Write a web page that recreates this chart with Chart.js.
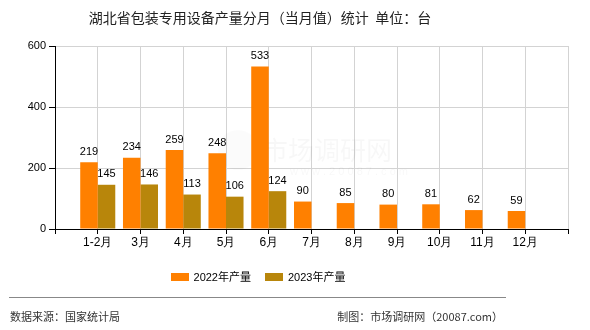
<!DOCTYPE html>
<html>
<head>
<meta charset="utf-8">
<script src="https://cdn.jsdelivr.net/npm/chart.js@4.4.1/dist/chart.umd.min.js"></script>
<style>
  html, body { margin: 0; padding: 0; background: #fff; }
  #wrap { position: relative; width: 590px; height: 330px; overflow: hidden;
          font-family: "Liberation Sans", "Noto Sans CJK SC", sans-serif; }
  #chart { position: absolute; left: 0; top: 0; }
  .title { position: absolute; left: 0; top: 7px; width: 520px; text-align: center;
           font-size: 14px; color: #222; font-family: "Noto Sans CJK SC", sans-serif; line-height: 20px; }
  .legend { position: absolute; left: 0; top: 268px; width: 516px; display: flex;
            justify-content: center; font-size: 11px; color: #000; line-height: 18px; }
  .legend span.item { display: flex; align-items: center; margin: 0 7px; }
  .legend i { display: inline-block; width: 18px; height: 8px; margin-right: 5px; }
  .rule { position: absolute; left: 9px; top: 297px; width: 497px; height: 1px; background: #888; }
  .foot { position: absolute; top: 307px; font-size: 11px; color: #333; line-height: 18px;
          font-family: "Noto Sans CJK SC", sans-serif; }
</style>
</head>
<body>
<div id="wrap">
  <canvas id="chart" width="590" height="330"></canvas>
  <div class="title">湖北省包装专用设备产量分月（当月值）统计&nbsp;&nbsp;单位：台</div>
  <div class="legend" id="legend"></div>
  <div class="rule"></div>
  <div class="foot" style="left:10px">数据来源：国家统计局</div>
  <div class="foot" style="right:87px">制图：市场调研网（20087.com）</div>
</div>
<script>
const months = ['1-2月', '3月', '4月', '5月', '6月', '7月', '8月', '9月', '10月', '11月', '12月'];
const output2022 = [219, 234, 259, 248, 533, 90, 85, 80, 81, 62, 59];
const output2023 = [145, 146, 113, 106, 124, null, null, null, null, null, null];
const yTicks = [0, 200, 400, 600];

const seriesNames = ['2022年产量', '2023年产量'];
const seriesColors = ['#ff8000', '#b8860b'];

// empty slot at each end so the grid lines fall on month centres
const pad = arr => [null, ...arr, null];

// faint site mark behind the bars
const watermark = {
  id: 'watermark',
  beforeDatasetsDraw(chart) {
    const ctx = chart.ctx;
    ctx.save();
    ctx.fillStyle = 'rgba(0,0,0,0.03)';
    ctx.font = '26px "Noto Sans CJK SC", sans-serif';
    ctx.textAlign = 'left';
    ctx.textBaseline = 'middle';
    ctx.fillText('市场调研网', 262, 150);
    ctx.font = '11px "Liberation Sans", sans-serif';
    ctx.fillText('w w w . 2 0 0 8 7 . c o m', 290, 172);
    ctx.beginPath();
    ctx.arc(238, 150, 20, 0, Math.PI * 2);
    ctx.fillStyle = 'rgba(0,0,0,0.015)';
    ctx.fill();
    ctx.restore();
  }
};

// value written above every bar
const barValues = {
  id: 'barValues',
  afterDatasetsDraw(chart) {
    const ctx = chart.ctx;
    ctx.save();
    ctx.fillStyle = '#000';
    ctx.font = '11px "Liberation Sans", sans-serif';
    ctx.textAlign = 'center';
    ctx.textBaseline = 'bottom';
    chart.data.datasets.forEach((ds, i) => {
      chart.getDatasetMeta(i).data.forEach((bar, j) => {
        const v = ds.data[j];
        if (v == null) return;
        ctx.fillText(String(v), bar.x, bar.y - 5);
      });
    });
    ctx.restore();
  }
};

const chart = new Chart(document.getElementById('chart'), {
  type: 'bar',
  data: {
    labels: ['', ...months, ''],
    datasets: [
      { label: seriesNames[0], data: pad(output2022), backgroundColor: seriesColors[0] },
      { label: seriesNames[1], data: pad(output2023), backgroundColor: seriesColors[1] }
    ]
  },
  options: {
    responsive: false,
    animation: false,
    layout: { padding: { top: 46, right: 22, bottom: 81, left: 0 } },
    datasets: { bar: { categoryPercentage: 0.82, barPercentage: 1 } },
    plugins: { legend: { display: false }, tooltip: { enabled: false } },
    scales: {
      x: {
        offset: false,
        afterFit(scale) { scale.height = 20; },
        grid: { offset: false, color: '#d3d3d3', tickColor: '#000', tickLength: 5 },
        border: { color: '#000' },
        ticks: { color: '#000', font: { size: 12 }, padding: 1, autoSkip: false, maxRotation: 0 }
      },
      y: {
        min: 0, max: 600,
        afterFit(scale) { scale.width = 55; },
        afterBuildTicks(scale) { scale.ticks = yTicks.map(v => ({ value: v })); },
        grid: { color: '#d3d3d3', tickColor: '#000', tickLength: 6 },
        border: { color: '#000' },
        ticks: { color: '#000', font: { size: 11 }, padding: 3 }
      }
    }
  },
  plugins: [watermark, barValues]
});

// legend built from the datasets
document.getElementById('legend').innerHTML = chart.data.datasets
  .map(ds => `<span class="item"><i style="background:${ds.backgroundColor}"></i>${ds.label}</span>`)
  .join('');
</script>
</body>
</html>
